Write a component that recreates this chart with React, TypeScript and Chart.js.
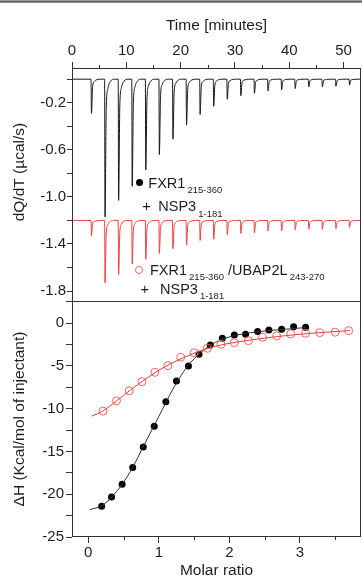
import React, { useEffect, useRef } from 'react';
import { Chart, registerables } from 'chart.js';

Chart.register(...registerables);

const FONT = "'Liberation Sans', Arial, Helvetica, sans-serif";
const TEXT = '#1e1e1e';
const AXIS = '#333333';
const BLACK = '#151515';
const RED = '#ee3c3c';
const RED_MARK = '#f26464';

// ---------- Top panel: raw thermogram ----------
const injectionTimes = [3.5, 6, 8.5, 11, 13.5, 16, 18.5, 21, 23.5, 26, 28.5, 31, 33.5, 36, 38.5, 41, 43.5, 46, 48.5, 51];
const blackBaseline = 0;
const blackPeaks = [-0.29, -1.17, -1.03, -0.91, -0.77, -0.64, -0.51, -0.39, -0.3, -0.23, -0.17, -0.14, -0.12, -0.1, -0.09, -0.08, -0.065, -0.065, -0.06, -0.05];
const redBaseline = -1.2;
const redPeaks = [-1.33, -1.73, -1.66, -1.57, -1.53, -1.48, -1.44, -1.41, -1.37, -1.36, -1.32, -1.31, -1.305, -1.29, -1.29, -1.28, -1.275, -1.275, -1.27, -1.26];
// shape of one injection peak: [minutes after the injection, fraction of the peak depth]
const peakProfile = [[0, 0], [0.08, 1], [0.3, 0.22], [0.6, 0.07], [1.1, 0.015], [1.8, 0]];
const timeRange = [0, 53.2];
const timeMinorTicks = [5, 15, 25, 35, 45];
const dqRange = [-1.893, 0.095];
const dqLabels = ['-0.2', '-0.6', '-1.0', '-1.4', '-1.8'];

// ---------- Bottom panel: binding isotherm ----------
const blackRatio = [0.19, 0.33, 0.48, 0.63, 0.78, 0.935, 1.1, 1.25, 1.42, 1.57, 1.73, 1.9, 2.07, 2.23, 2.4, 2.56, 2.74, 2.91, 3.08];
const blackDH = [-21.41, -20.32, -18.83, -16.88, -14.46, -12.04, -9.19, -6.76, -5.0, -3.63, -2.54, -1.76, -1.37, -1.29, -0.98, -0.79, -0.7, -0.4, -0.47];
const redRatio = [0.21, 0.4, 0.58, 0.76, 0.945, 1.13, 1.31, 1.5, 1.69, 1.88, 2.07, 2.27, 2.47, 2.67, 2.87, 3.08, 3.28, 3.5, 3.69];
const redDH = [-10.28, -9.07, -7.9, -6.84, -5.74, -4.97, -3.98, -3.45, -2.93, -2.46, -2.27, -2.04, -1.64, -1.49, -1.25, -1.17, -1.1, -1.05, -0.87];
const blackFitRatio = [0.02, 0.2, 0.4, 0.6, 0.8, 1.0, 1.2, 1.4, 1.6, 1.8, 2.0, 2.4, 2.8, 3.08];
const blackFitDH = [-21.8, -21.3, -19.7, -17.3, -14.1, -10.9, -7.7, -5.1, -3.4, -2.25, -1.6, -1.0, -0.7, -0.5];
const redFitRatio = [0.05, 0.2, 0.4, 0.6, 0.8, 1.0, 1.2, 1.4, 1.6, 1.8, 2.0, 2.4, 2.8, 3.2, 3.71];
const redFitDH = [-10.86, -10.3, -9.1, -7.8, -6.6, -5.5, -4.6, -3.85, -3.2, -2.7, -2.35, -1.85, -1.45, -1.15, -0.85];
const ratioRange = [-0.23, 3.865];
const ratioMinorTicks = [0.5, 1.5, 2.5, 3.5];
const dhRange = [-25, 2.6];
const dhLabels = ['0', '-5', '-10', '-15', '-20', '-25'];

function thermogram(base: number, peaks: number[]) {
  const pts: { x: number; y: number }[] = [{ x: timeRange[0], y: base }];
  injectionTimes.forEach((t, i) => {
    peakProfile.forEach(([dt, f]) => pts.push({ x: t + dt, y: base + f * (peaks[i] - base) }));
  });
  pts.push({ x: timeRange[1], y: base });
  return pts;
}

const pairs = (xs: number[], ys: number[]) => xs.map((x, i) => ({ x, y: ys[i] }));

function labelFrom(list: string[]) {
  return (v: number | string) => {
    const n = Number(v);
    const hit = list.find((s) => Math.abs(parseFloat(s) - n) < 1e-6);
    return hit === undefined ? '' : hit;
  };
}

function noPadding(s: any) {
  s.paddingTop = 0;
  s.paddingBottom = 0;
  s.paddingLeft = 0;
  s.paddingRight = 0;
}

function framePlugin(id: string) {
  return {
    id,
    afterDraw(chart: any) {
      const { ctx, chartArea } = chart;
      const { left, right, top, bottom } = chartArea;
      ctx.save();
      ctx.strokeStyle = AXIS;
      ctx.lineWidth = 1;
      ctx.strokeRect(left + 0.5, top + 0.5, right - left - 1, bottom - top - 1);
      ctx.restore();
    },
  };
}

function minorTicksPlugin(id: string, scaleId: string, values: number[], length: number) {
  return {
    id,
    afterDraw(chart: any) {
      const scale = chart.scales[scaleId];
      const { ctx } = chart;
      ctx.save();
      ctx.strokeStyle = AXIS;
      ctx.lineWidth = 1;
      ctx.beginPath();
      values.forEach((v) => {
        const p = Math.round(scale.getPixelForValue(v)) + 0.5;
        if (scale.position === 'top') {
          ctx.moveTo(p, scale.bottom);
          ctx.lineTo(p, scale.bottom - length);
        } else {
          ctx.moveTo(p, scale.top);
          ctx.lineTo(p, scale.top + length);
        }
      });
      ctx.stroke();
      ctx.restore();
    },
  };
}

const tickFont = { family: FONT, size: 15 };
const titleFont = { family: FONT, size: 15.5 };

export default function App() {
  const topRef = useRef<HTMLCanvasElement>(null);
  const botRef = useRef<HTMLCanvasElement>(null);

  useEffect(() => {
    const top = new Chart(topRef.current as HTMLCanvasElement, {
      type: 'line',
      data: {
        datasets: [
          { data: thermogram(blackBaseline, blackPeaks), borderColor: BLACK, borderWidth: 1, pointRadius: 0, cubicInterpolationMode: 'monotone' },
          { data: thermogram(redBaseline, redPeaks), borderColor: RED, borderWidth: 1, pointRadius: 0, cubicInterpolationMode: 'monotone' },
        ],
      },
      options: {
        responsive: false,
        animation: false,
        devicePixelRatio: 1,
        layout: { autoPadding: false, padding: { top: 0, left: 0, right: 1, bottom: 0 } },
        plugins: { legend: { display: false }, tooltip: { enabled: false } },
        scales: {
          x: {
            type: 'linear', position: 'top', min: timeRange[0], max: timeRange[1],
            ticks: { stepSize: 10, includeBounds: false, padding: 2, font: tickFont, color: TEXT, maxRotation: 0, autoSkip: false },
            grid: { drawOnChartArea: false, drawTicks: true, tickLength: 6, tickColor: AXIS },
            border: { display: false },
            title: { display: true, text: 'Time [minutes]', font: titleFont, color: TEXT, padding: { top: 16, bottom: 0 } },
            afterFit: (s: any) => { s.height = 68; noPadding(s); },
          },
          y: {
            type: 'linear', min: dqRange[0], max: dqRange[1],
            ticks: { stepSize: 0.2, includeBounds: false, padding: 1, font: tickFont, color: TEXT, autoSkip: false, callback: labelFrom(dqLabels) },
            grid: { drawOnChartArea: false, drawTicks: true, tickLength: 5, tickColor: AXIS },
            border: { display: false },
            title: { display: true, text: '      dQ/dT (µcal/s)', font: titleFont, color: TEXT, padding: { top: 10, bottom: 0 } },
            afterFit: (s: any) => { s.width = 72; noPadding(s); },
          },
        },
      },
      plugins: [framePlugin('frameTop'), minorTicksPlugin('minorTime', 'x', timeMinorTicks, 3)],
    } as any);

    const bot = new Chart(botRef.current as HTMLCanvasElement, {
      type: 'line',
      data: {
        datasets: [
          { data: pairs(redFitRatio, redFitDH), borderColor: RED, borderWidth: 1, pointRadius: 0, cubicInterpolationMode: 'monotone' },
          { data: pairs(redRatio, redDH), showLine: false, pointRadius: 4, pointBorderWidth: 1, pointBorderColor: RED_MARK, pointBackgroundColor: 'rgba(0,0,0,0)' },
          { data: pairs(blackFitRatio, blackFitDH), borderColor: '#333333', borderWidth: 1, pointRadius: 0, cubicInterpolationMode: 'monotone' },
          { data: pairs(blackRatio, blackDH), showLine: false, pointRadius: 3.5, pointBorderWidth: 0, pointBackgroundColor: '#000000' },
        ],
      },
      options: {
        responsive: false,
        animation: false,
        devicePixelRatio: 1,
        layout: { autoPadding: false, padding: { top: 0, left: 0, right: 1, bottom: 0 } },
        plugins: { legend: { display: false }, tooltip: { enabled: false } },
        scales: {
          x: {
            type: 'linear', position: 'bottom', min: ratioRange[0], max: ratioRange[1],
            ticks: { stepSize: 1, includeBounds: false, padding: 1, font: tickFont, color: TEXT, maxRotation: 0, autoSkip: false },
            grid: { drawOnChartArea: false, drawTicks: true, tickLength: 6, tickColor: AXIS },
            border: { display: false },
            title: { display: true, text: 'Molar ratio', font: titleFont, color: TEXT, padding: { top: 0, bottom: 0 } },
            afterFit: (s: any) => { s.height = 43; noPadding(s); },
          },
          y: {
            type: 'linear', min: dhRange[0], max: dhRange[1],
            ticks: { stepSize: 2.5, includeBounds: false, padding: 2, font: tickFont, color: TEXT, autoSkip: false, callback: labelFrom(dhLabels) },
            grid: { drawOnChartArea: false, drawTicks: true, tickLength: 6, tickColor: AXIS },
            border: { display: false },
            title: { display: true, text: 'ΔH (Kcal/mol of injectant)', font: titleFont, color: TEXT, padding: { top: 10, bottom: 0 } },
            afterFit: (s: any) => { s.width = 72; noPadding(s); },
          },
        },
      },
      plugins: [framePlugin('frameBot'), minorTicksPlugin('minorRatio', 'x', ratioMinorTicks, 3)],
    } as any);

    return () => { top.destroy(); bot.destroy(); };
  }, []);

  const note = (left: number, top: number, color: string): React.CSSProperties => ({
    position: 'absolute', left, top, fontSize: 14.5, lineHeight: '15px', color, whiteSpace: 'nowrap', fontFamily: FONT,
  });
  const sub: React.CSSProperties = { fontSize: 9.5, position: 'relative', top: 5.5, marginLeft: 2 };

  return (
    <div style={{ position: 'absolute', left: 0, top: 0, width: 362, height: 580, background: '#ffffff', overflow: 'hidden' }}>
      <canvas ref={topRef} width={362} height={302} style={{ position: 'absolute', left: 0, top: 0 }} />
      <canvas ref={botRef} width={362} height={279} style={{ position: 'absolute', left: 0, top: 301 }} />
      <div style={{ position: 'absolute', left: 0, top: 0, width: 362, height: 3, background: 'linear-gradient(#b4b4b4, #5c5c5c 55%, #a8a8a8)' }} />

      <div style={{ position: 'absolute', left: 135.8, top: 179.2, width: 7, height: 7, borderRadius: '50%', background: '#000' }} />
      <div style={note(148.3, 175.8, TEXT)}>FXR1<span style={sub}>215-360</span></div>
      <div style={note(142.3, 199.2, TEXT)}>+</div>
      <div style={note(158.3, 199.2, TEXT)}>NSP3<span style={sub}>1-181</span></div>

      <div style={{ position: 'absolute', left: 135.3, top: 266, width: 8, height: 8, boxSizing: 'border-box', borderRadius: '50%', border: `1px solid ${RED_MARK}` }} />
      <div style={note(150, 262.5, TEXT)}>FXR1<span style={sub}>215-360</span> /UBAP2L<span style={sub}>243-270</span></div>
      <div style={note(140.6, 281.5, TEXT)}>+</div>
      <div style={note(160, 281.5, TEXT)}>NSP3<span style={sub}>1-181</span></div>
    </div>
  );
}
